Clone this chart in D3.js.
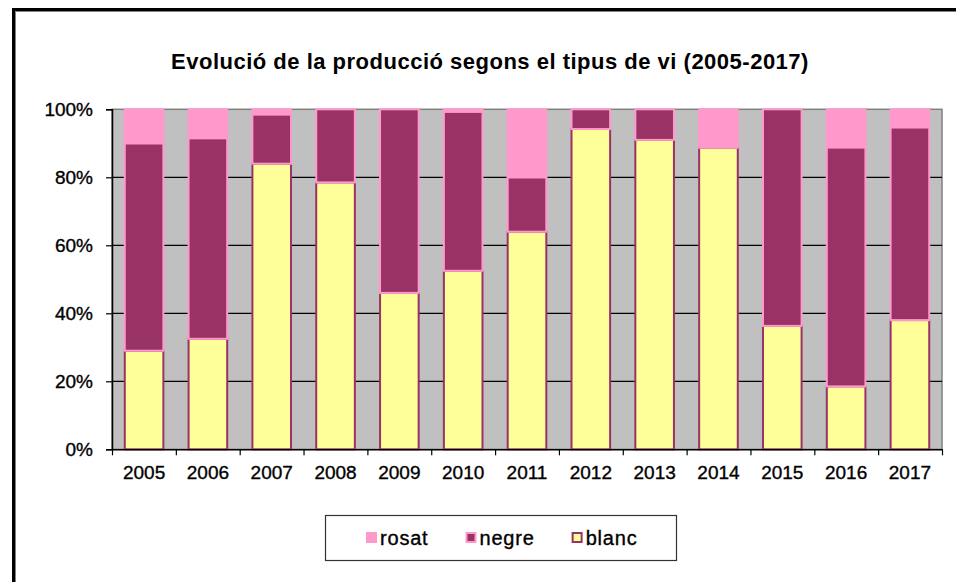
<!DOCTYPE html>
<html>
<head>
<meta charset="utf-8">
<script src="https://cdn.jsdelivr.net/npm/d3@7"></script>
<style>
  body { margin: 0; background: #fff; }
  svg { display: block; font-family: "Liberation Sans", Arial, sans-serif; }
  .lbl { stroke: #000; stroke-width: 0.35px; }
</style>
</head>
<body>
<div id="chart"></div>
<script>
// Values (percent of yearly production)
const years = ['2005', '2006', '2007', '2008', '2009', '2010', '2011', '2012', '2013', '2014', '2015', '2016', '2017'];
const blanc = [29, 32.5, 84, 78.5, 46, 52.5, 64, 94.2, 91, 88.7, 36.3, 18.5, 38];
const negre = [61, 59, 14.5, 21.5, 54, 46.8, 16, 5.8, 9, 0, 63.7, 70.3, 56.7];
const rosat = [10, 8.5, 1.5, 0, 0, 0.7, 20, 0, 0, 11.3, 0, 11.2, 5.3];
const yTicks = [0, 20, 40, 60, 80, 100];
const legendOrder = ['rosat', 'negre', 'blanc'];

const width = 956;
const height = 582;
const plot = { left: 112, right: 942, top: 109.3, bottom: 449.3 };

const fills = { blanc: '#FFFF99', negre: '#993366', rosat: '#FF99CC' };
const strokes = { blanc: '#993366', negre: '#FF99CC', rosat: '#FF99CC' };

const table = years.map((y, i) => ({ year: y, blanc: blanc[i], negre: negre[i], rosat: rosat[i] }));

const svg = d3.select('#chart')
  .append('svg')
  .attr('width', width)
  .attr('height', height);

// outer chart frame (runs off the bottom/right of the picture)
svg.append('rect')
  .attr('x', 13.5).attr('y', 9.5)
  .attr('width', 960).attr('height', 600)
  .attr('fill', 'none')
  .attr('stroke', '#000')
  .attr('stroke-width', 3);
svg.append('path')
  .attr('d', `M15.5,${height + 5}V11.5H${width + 5}`)
  .attr('fill', 'none')
  .attr('stroke', '#808080')
  .attr('stroke-width', 1);

svg.append('text')
  .attr('x', 490)
  .attr('y', 69)
  .attr('text-anchor', 'middle')
  .attr('font-size', 22)
  .attr('font-weight', 'bold')
  .attr('letter-spacing', 0.5)
  .text('Evolució de la producció segons el tipus de vi (2005-2017)');

const x = d3.scaleBand()
  .domain(years)
  .range([plot.left, plot.right])
  .paddingInner(0.395)
  .paddingOuter(0.2);

const xEdges = d3.scaleLinear()
  .domain([0, years.length])
  .range([plot.left, plot.right]);

const y = d3.scaleLinear()
  .domain([0, 100])
  .range([plot.bottom, plot.top]);

// plot area
svg.append('rect')
  .attr('x', plot.left).attr('y', plot.top)
  .attr('width', plot.right - plot.left)
  .attr('height', plot.bottom - plot.top)
  .attr('fill', '#C0C0C0')
  .attr('stroke', '#808080')
  .attr('stroke-width', 1.5);

// gridlines
svg.append('g')
  .selectAll('line')
  .data(yTicks.filter(d => d > 0 && d < 100))
  .join('line')
  .attr('x1', plot.left).attr('x2', plot.right)
  .attr('y1', d => y(d)).attr('y2', d => y(d))
  .attr('stroke', '#000')
  .attr('stroke-width', 1.2);

// stacked bars
const stack = d3.stack().keys(['blanc', 'negre', 'rosat']);
const series = stack(table);

const layers = svg.append('g')
  .selectAll('g')
  .data(series)
  .join('g')
  .attr('fill', d => fills[d.key])
  .attr('stroke', d => strokes[d.key])
  .attr('stroke-width', 2);

layers.selectAll('rect')
  .data(d => d.filter(s => s[1] - s[0] > 0))
  .join('rect')
  .attr('x', d => x(d.data.year))
  .attr('y', d => y(d[1]))
  .attr('width', x.bandwidth())
  .attr('height', d => y(d[0]) - y(d[1]));

// y axis
const yAxis = d3.axisLeft(y)
  .tickValues(yTicks)
  .tickFormat(d => d + '%')
  .tickSize(6)
  .tickPadding(13);

svg.append('g')
  .attr('transform', `translate(${plot.left},0)`)
  .call(yAxis)
  .call(g => g.select('.domain').attr('stroke-width', 1.5))
  .call(g => g.selectAll('.tick line').attr('stroke-width', 1.2))
  .call(g => g.selectAll('text').attr('class', 'lbl').attr('font-size', 19).attr('fill', '#000')
    .attr('font-family', '"Liberation Sans", Arial, sans-serif'));

// x axis: ticks at category edges, labels centred
svg.append('g')
  .attr('transform', `translate(0,${plot.bottom})`)
  .call(d3.axisBottom(xEdges).tickValues(d3.range(years.length + 1)).tickFormat('').tickSize(6).tickSizeOuter(0))
  .call(g => g.select('.domain').attr('stroke-width', 1.5))
  .call(g => g.selectAll('.tick line').attr('stroke-width', 1.2));

svg.append('g')
  .attr('transform', `translate(0,${plot.bottom})`)
  .call(d3.axisBottom(x).tickSize(0).tickPadding(16))
  .call(g => g.select('.domain').remove())
  .call(g => g.selectAll('text').attr('class', 'lbl').attr('font-size', 19).attr('fill', '#000')
    .attr('font-family', '"Liberation Sans", Arial, sans-serif'));

// legend
const legend = svg.append('g');
legend.append('rect')
  .attr('x', 325.5).attr('y', 515.5)
  .attr('width', 351).attr('height', 45)
  .attr('fill', '#fff')
  .attr('stroke', '#333')
  .attr('stroke-width', 1.2);

let lx = 366;
legendOrder.forEach(key => {
  const item = legend.append('g');
  const inset = key === 'rosat' ? 0 : 1;
  item.append('rect')
    .attr('x', lx + inset).attr('y', 532 + inset)
    .attr('width', 11 - 2 * inset).attr('height', 11 - 2 * inset)
    .attr('fill', fills[key])
    .attr('stroke', key === 'rosat' ? 'none' : strokes[key])
    .attr('stroke-width', 2);
  const t = item.append('text')
    .attr('class', 'lbl')
    .attr('x', lx + 14)
    .attr('y', 545)
    .attr('font-size', 20)
    .attr('letter-spacing', 0.8)
    .text(key);
  lx = lx + 14 + t.node().getComputedTextLength() + 37;
});
</script>
</body>
</html>
